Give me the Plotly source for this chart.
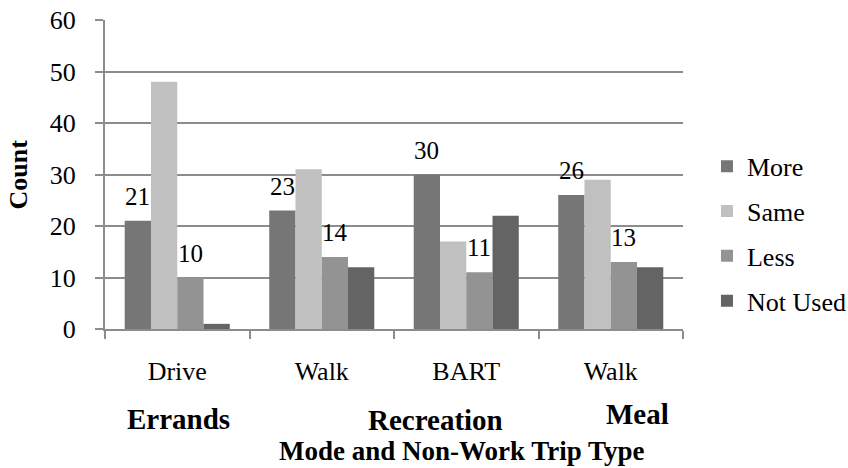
import plotly.graph_objects as go

# ---- data ----
modes = ["Drive", "Walk", "BART", "Walk"]
mode_ids = ["Errands-Drive", "Errands-Walk", "Recreation-BART", "Meal-Walk"]
trip_types = ["Errands", "Recreation", "Meal"]
series_names = ["More", "Same", "Less", "Not Used"]
more = [21, 23, 30, 26]
same = [48, 31, 17, 29]
less = [10, 14, 11, 13]
not_used = [1, 12, 22, 12]
labelled_series = ["More", "Less"]

# ---- style ----
FONT = "Liberation Serif"
GRID = "#8c8c8c"
colors = {"More": "#767676", "Same": "#c0c0c0", "Less": "#939393", "Not Used": "#646464"}
values = {"More": more, "Same": same, "Less": less, "Not Used": not_used}
BARGAP = 0.273

fig = go.Figure()
for name in series_names:
    fig.add_trace(go.Bar(
        x=mode_ids, y=values[name], name=name,
        marker=dict(color=colors[name], line=dict(width=0)),
        legendgroup=name,
    ))

# data labels above More / Less bars
n = len(series_names)
bw = (1 - BARGAP) / n
for name in labelled_series:
    k = series_names.index(name)
    off = (k - (n - 1) / 2) * bw
    for i, v in enumerate(values[name]):
        fig.add_annotation(
            x=i + off, y=v, xref="x", yref="y", text=str(v), showarrow=False,
            yanchor="bottom", yshift=9,
            font=dict(family=FONT, size=25, color="black"),
        )

# group labels (trip types) and axis titles
group_pos = {"Errands": (0.1272, -0.2913), "Recreation": (0.5718, -0.2945), "Meal": (0.9221, -0.2751)}
for t in trip_types:
    gx, gy = group_pos[t]
    fig.add_annotation(
        x=gx, y=gy, xref="paper", yref="paper", text=f"<b>{t}</b>", showarrow=False,
        xanchor="center", yanchor="middle",
        font=dict(family=FONT, size=29, color="black"),
    )
fig.add_annotation(
    x=0.6176, y=-0.3964, xref="paper", yref="paper",
    text="<b>Mode and Non-Work Trip Type</b>", showarrow=False,
    xanchor="center", yanchor="middle",
    font=dict(family=FONT, size=27, color="black"),
)
fig.add_annotation(
    x=-0.1505, y=0.5, xref="paper", yref="paper",
    text="<b>Count</b>", showarrow=False, textangle=-90,
    xanchor="center", yanchor="middle",
    font=dict(family=FONT, size=26, color="black"),
)

fig.update_layout(
    width=848, height=468,
    margin=dict(l=105, r=165, t=20, b=139, autoexpand=False),
    paper_bgcolor="white", plot_bgcolor="white",
    barmode="group", bargap=BARGAP, bargroupgap=0,
    font=dict(family=FONT, size=26, color="black"),
    showlegend=True,
    legend=dict(
        x=1.0415, y=0.308, xanchor="left", yanchor="middle",
        font=dict(family=FONT, size=26, color="black"),
        tracegroupgap=8, bgcolor="rgba(0,0,0,0)",
    ),
)
fig.update_xaxes(
    type="category", tickmode="array", tickvals=mode_ids, ticktext=modes,
    tickson="boundaries", ticks="outside", ticklen=8, tickwidth=2, tickcolor=GRID,
    showline=True, linecolor=GRID, linewidth=2, showgrid=False,
    ticklabelstandoff=18,
    tickfont=dict(family=FONT, size=26, color="black"),
)
fig.update_yaxes(
    range=[0, 60], dtick=10, tick0=0,
    ticks="outside", ticklen=8, tickwidth=2, tickcolor=GRID,
    showline=True, linecolor=GRID, linewidth=2,
    showgrid=True, gridcolor=GRID, gridwidth=2, zeroline=False,
    ticklabelstandoff=14,
    tickfont=dict(family=FONT, size=26, color="black"),
)

fig.write_html("out.html")
